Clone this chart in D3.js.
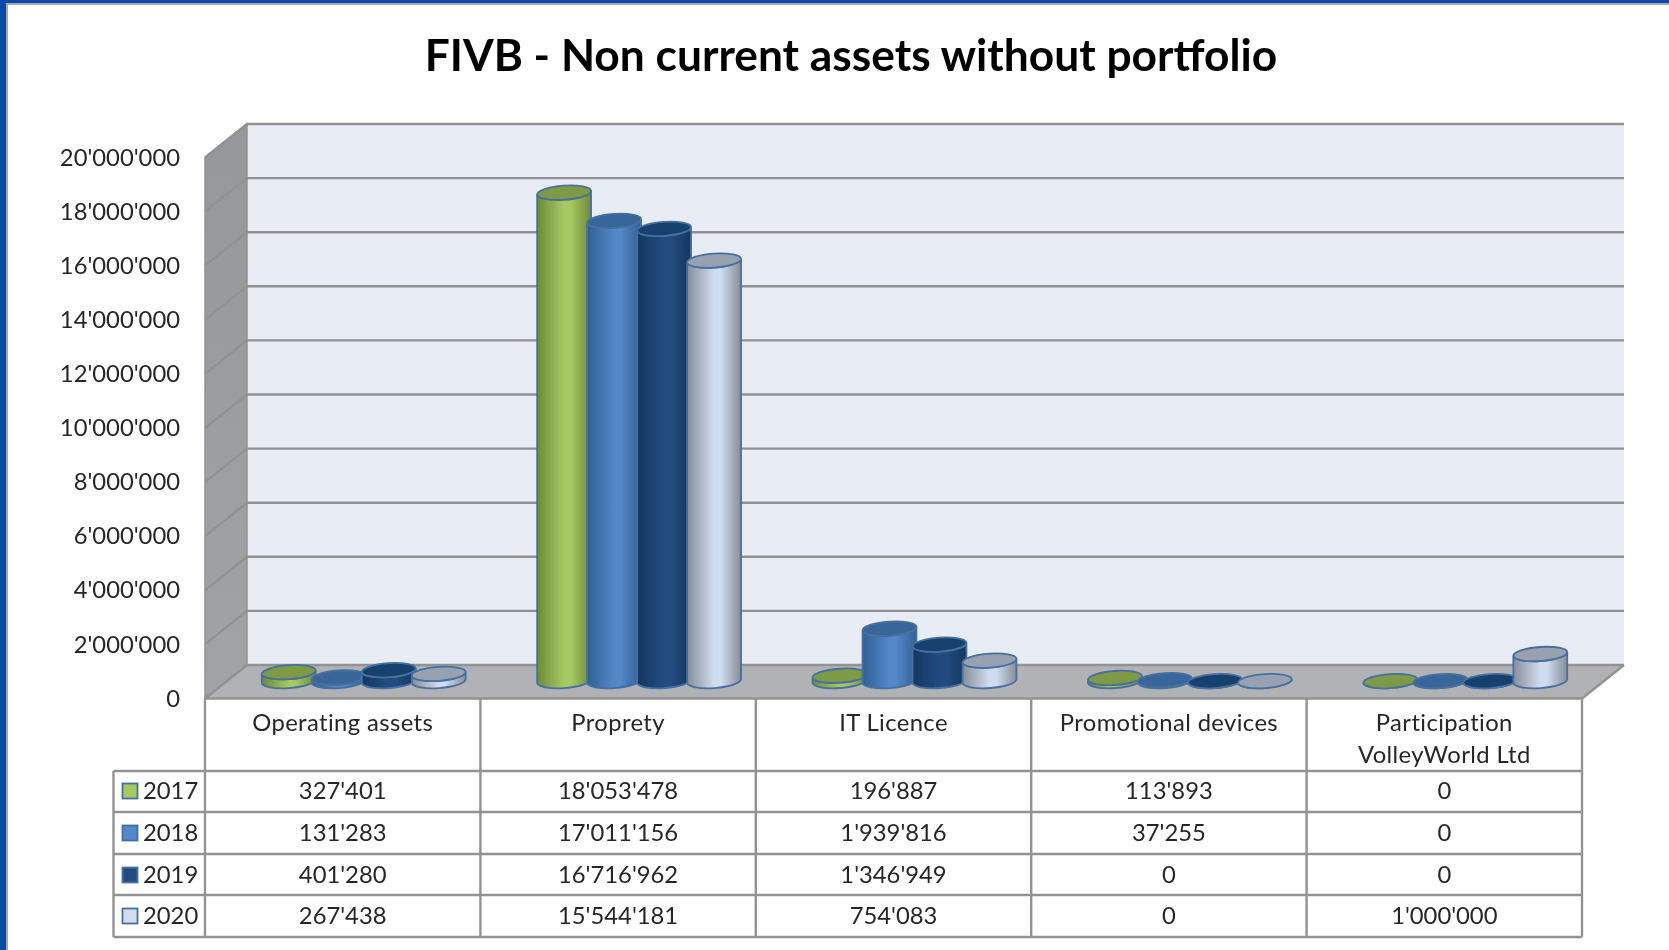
<!DOCTYPE html>
<html><head><meta charset="utf-8">
<script src="https://cdn.jsdelivr.net/npm/d3@7/dist/d3.min.js"></script>
<style>html,body{margin:0;padding:0;background:#fff;overflow:hidden}svg{display:block}text{font-family:Lato,"Open Sans",sans-serif;fill:#262626}</style>
</head><body><svg id="c" width="1669" height="950"></svg>
<script>
const title = "FIVB - Non current assets without portfolio";
const categories = ["Operating assets","Proprety","IT Licence","Promotional devices","Participation\nVolleyWorld Ltd"];
const years = ["2017","2018","2019","2020"];
const v2017 = [327401,18053478,196887,113893,0];
const v2018 = [131283,17011156,1939816,37255,0];
const v2019 = [401280,16716962,1346949,0,0];
const v2020 = [267438,15544181,754083,0,1000000];
const seriesValues = [v2017,v2018,v2019,v2020];
const yTicks = d3.range(0,20000001,2000000);
const palette = [
 {edge:"#6d8a38",mid:"#a6c963",top:"#7f9a47"},
 {edge:"#2f5f96",mid:"#5488c8",top:"#38659a"},
 {edge:"#15365f",mid:"#224c82",top:"#183f6e"},
 {edge:"#878d99",mid:"#d0dcf0",top:"#98a1b1"}];

const root = d3.select("#c");
const fmt = d3.formatLocale({decimal:".",thousands:"'",grouping:[3],currency:["",""]}).format(",d");
const FS = 23.8, GRID="#929292", stroke="#47709f";

// geometry
const frontL=205, frontR=1582, dx=42, dy=33.5, zeroY=698.5, topY=157.5;
const x = d3.scaleBand().domain(categories).range([frontL,frontR]);
const y = d3.scaleLinear().domain([0,20000000]).range([zeroY,topY]);
const series = d3.scaleBand().domain(years).range([0,200]);
const rx=27, ry=7, tilt=-4, t=tilt*Math.PI/180;

const defs = root.append("defs");
const soft = defs.append("filter").attr("id","soft").attr("x",0).attr("y",0).attr("width",1).attr("height",1)
  .attr("filterUnits","objectBoundingBox");
soft.append("feGaussianBlur").attr("stdDeviation",0.45);
const svg = root.append("g").attr("filter","url(#soft)");
svg.append("rect").attr("width",1669).attr("height",950).attr("fill","#fff");

// frame
svg.append("rect").attr("x",0).attr("y",0).attr("width",1669).attr("height",3).attr("fill","#0d47a8");
svg.append("rect").attr("x",0).attr("y",0).attr("width",6).attr("height",950).attr("fill","#0d47a8");
svg.append("rect").attr("x",6).attr("y",3).attr("width",1663).attr("height",2).attr("fill","#a8a8a8");
svg.append("rect").attr("x",6).attr("y",3).attr("width",2).attr("height",947).attr("fill","#a8a8a8");

palette.forEach((p,i)=>{
  const g=defs.append("linearGradient").attr("id","g"+i);
  [[0,p.edge],[.5,p.mid],[.62,p.mid],[1,p.edge]].forEach(s=>g.append("stop").attr("offset",s[0]).attr("stop-color",s[1]));
});
const wg=defs.append("linearGradient").attr("id","wall").attr("x1",0).attr("x2",0).attr("y1",0).attr("y2",1);
wg.append("stop").attr("offset",0).attr("stop-color","#96979b");
wg.append("stop").attr("offset",1).attr("stop-color","#a2a3a7");

// walls
const bx=frontL+dx, bx2=frontR+dx;
svg.append("rect").attr("x",bx).attr("y",y(20000000)-dy).attr("width",bx2-bx).attr("height",y(0)-y(20000000)).attr("fill","#e8ecf5");
svg.append("path").attr("fill","url(#wall)").attr("stroke",GRID).attr("stroke-width",1.5)
  .attr("d",d3.line()([[frontL,y(0)],[frontL,y(20000000)],[bx,y(20000000)-dy],[bx,y(0)-dy]])+"Z");
svg.append("path").attr("fill","#b0b2b6")
  .attr("d",d3.line()([[frontL,y(0)],[bx,y(0)-dy],[bx2,y(0)-dy],[frontR,y(0)]])+"Z");

// gridlines
svg.append("g").selectAll("path").data(yTicks).join("path").attr("fill","none")
  .attr("stroke",GRID).attr("stroke-width",2.4)
  .attr("d",d=>d3.line()([[frontL,y(d)],[bx,y(d)-dy],[bx2,y(d)-dy]]));
svg.append("path").attr("fill","none").attr("stroke",GRID).attr("stroke-width",2.4)
  .attr("d",d3.line()([[bx2,y(0)-dy],[frontR,y(0)]]));

// y axis
const ax=svg.append("g").attr("transform",`translate(${frontL-25},0)`)
  .call(d3.axisLeft(y).tickValues(yTicks).tickSize(0).tickPadding(0).tickFormat(fmt));
ax.select(".domain").remove();
ax.selectAll("text").style("font-size",FS+"px").attr("fill",null);

// bars
const barCx=(ci,si)=>x(categories[ci])+x.bandwidth()/2+dx/2+series(years[si])+series.bandwidth()/2-100;
const baseY=y(0)-dy/2-.7;
const ex=rx*Math.cos(t), ey=rx*Math.sin(t);
const bars=[];
categories.forEach((c,ci)=>seriesValues.forEach((s,si)=>bars.push({ci,si,v:s[ci]})));
const gB=svg.append("g").selectAll("g").data(bars).join("g");
gB.append("path").attr("fill",d=>`url(#g${d.si})`).attr("stroke",stroke).attr("stroke-width",1.8)
  .attr("d",d=>{
    const cx=barCx(d.ci,d.si), h=y(0)-y(d.v), yb=baseY, yt=baseY-h;
    return `M${cx-ex},${yt-ey}L${cx-ex},${yb-ey}A${rx},${ry},${tilt},0,0,${cx+ex},${yb+ey}L${cx+ex},${yt+ey}A${rx},${ry},${tilt},0,1,${cx-ex},${yt-ey}Z`;
  });
gB.append("ellipse").attr("rx",rx).attr("ry",ry)
  .attr("transform",d=>`translate(${barCx(d.ci,d.si)},${baseY-(y(0)-y(d.v))}) rotate(${tilt})`)
  .attr("fill",d=>palette[d.si].top).attr("stroke",stroke).attr("stroke-width",1.8);

// table
const rowLines=[y(0),771,812,854,895,937];
const tableL=113.5;
const gT=svg.append("g").attr("stroke",GRID).attr("stroke-width",2.4);
rowLines.forEach((ry_,i)=>{
  gT.append("line").attr("x1",i===0?frontL:tableL).attr("x2",frontR).attr("y1",ry_).attr("y2",ry_);
});
x.domain().forEach(c=>gT.append("line").attr("x1",x(c)).attr("x2",x(c)).attr("y1",y(0)).attr("y2",937));
gT.append("line").attr("x1",frontR).attr("x2",frontR).attr("y1",y(0)).attr("y2",937);
gT.append("line").attr("x1",tableL).attr("x2",tableL).attr("y1",771).attr("y2",937);

const cx=c=>x(c)+x.bandwidth()/2;
categories.forEach(c=>{
  c.split("\n").forEach((ln,i)=>svg.append("text").attr("x",cx(c)).attr("y",723+i*32)
    .attr("dy",".35em").attr("text-anchor","middle").style("font-size",FS+"px").style("letter-spacing","0.4px").text(ln));
});
const rowY=[791,833,875,916];
years.forEach((yr,si)=>{
  svg.append("rect").attr("x",122.5).attr("y",rowY[si]-7.5).attr("width",15).attr("height",15)
    .attr("fill",palette[si].mid).attr("stroke",stroke).attr("stroke-width",1.8);
  svg.append("text").attr("x",143).attr("y",rowY[si]).attr("dy",".35em").style("font-size",FS+"px").text(yr);
  categories.forEach((c,ci)=>svg.append("text").attr("x",cx(c)).attr("y",rowY[si]).attr("dy",".35em")
    .attr("text-anchor","middle").style("font-size",FS+"px").text(fmt(seriesValues[si][ci])));
});

svg.append("text").attr("x",851).attr("y",55).attr("dy",".35em").attr("text-anchor","middle")
  .style("font-size","44.3px").style("font-weight",700).style("fill","#000").text(title);
</script></body></html>
